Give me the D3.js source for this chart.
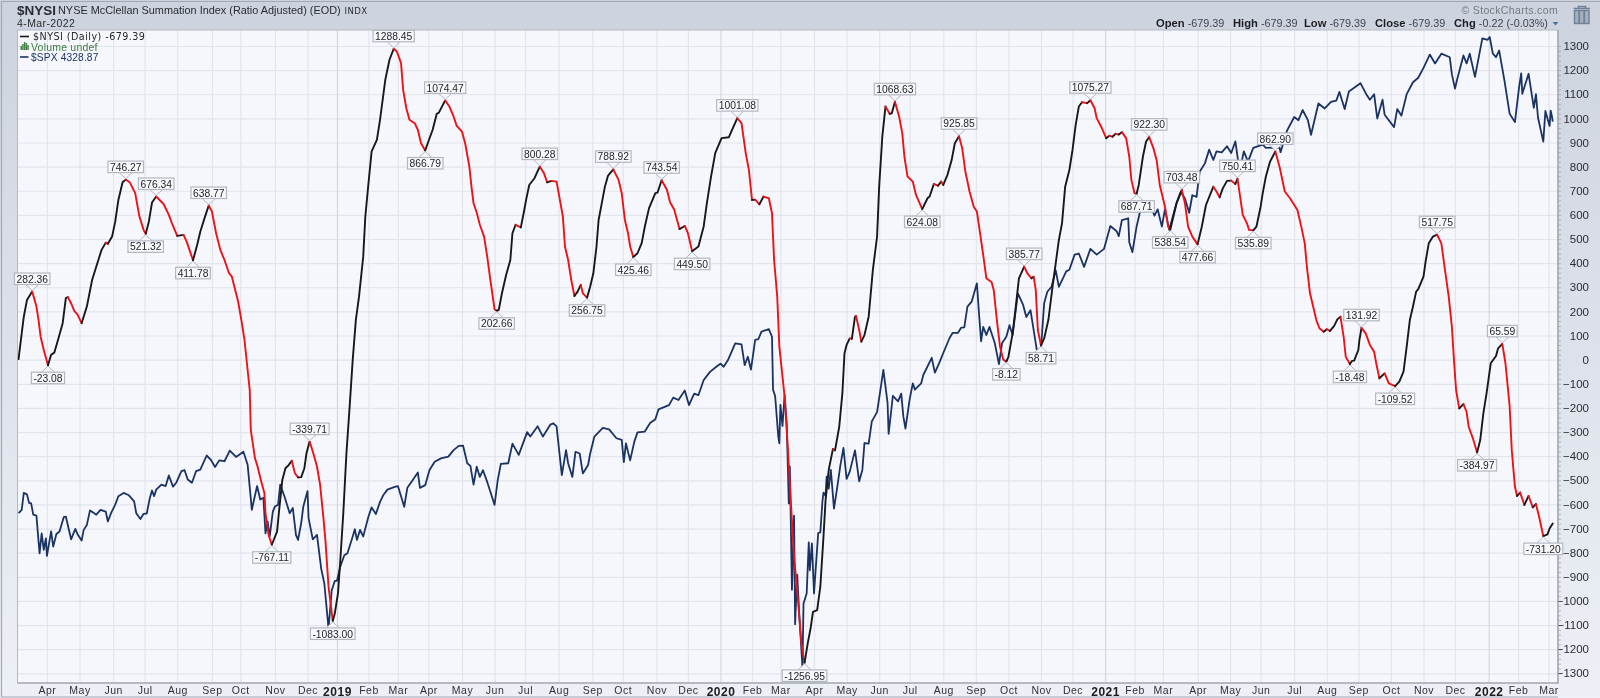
<!DOCTYPE html>
<html>
<head>
<meta charset="utf-8">
<title>$NYSI</title>
<script src="https://cdn.jsdelivr.net/npm/d3@7"></script>
<style>
  html, body { margin: 0; padding: 0; background: #fff; }
  svg { display: block; }
</style>
</head>
<body>
<div id="chart"></div>
<script>
// $NYSI closes, [month-day, value]
const nysi2018 = [["03-05",2],["03-08",109],["03-10",178],["03-13",247],["03-18",282.36],["03-22",220],["03-24",165],["03-26",95],["03-29",40],
  ["04-02",-23.08],["04-05",20],["04-08",29],["04-12",89],["04-16",151],["04-19",255],["04-21",259],["04-24",234],["04-27",202],["04-30",188],
  ["05-04",151],["05-09",220],["05-14",330],["05-18",386],["05-23",455],["05-27",485],["05-29",480],
  ["06-02",510],["06-05",572],["06-08",662],["06-12",735],["06-15",746.27],["06-19",734],["06-24",690],["06-28",593],
  ["07-02",538],["07-04",521.32],["07-07",572],["07-10",651],["07-14",676.34],["07-21",645],["07-26",600],["07-29",565],
  ["08-03",513],["08-09",517],["08-12",489],["08-18",411.78],["08-22",476],["08-25",531],["08-30",600],
  ["09-02",638.77],["09-05",614],["09-09",524],["09-13",455],["09-17",413],["09-21",361],["09-24",344],["09-30",240],
  ["10-03",165],["10-06",82],["10-09",-43],["10-11",-126],["10-12",-291],["10-16",-409],["10-18",-436],["10-22",-506],["10-25",-554],["10-26",-637],["10-29",-727],
  ["11-01",-767.11],["11-06",-713],["11-08",-623],["11-11",-499],["11-14",-450],["11-17",-437],["11-20",-419],["11-23",-471],["11-26",-488],["11-29",-487],
  ["12-02",-450],["12-04",-388],["12-07",-339.71],["12-10",-381],["12-14",-443],["12-17",-519],["12-20",-651],["12-22",-747],["12-25",-941],["12-29",-1083],["12-31",-1051]];
const nysi2019 = [["01-03",-968],["01-05",-844],["01-08",-640],["01-11",-390],["01-14",-200],["01-17",-1],["01-20",165],["01-23",261],["01-27",427],["01-29",593],
  ["02-01",731],["02-04",863],["02-09",911],["02-12",994],["02-17",1160],["02-21",1243],["02-25",1288.45],["02-28",1277],
  ["03-04",1229],["03-06",1118],["03-09",1042],["03-12",994],["03-17",980],["03-20",952],["03-23",897],["03-27",866.79],["03-30",904],
  ["04-03",952],["04-07",1019],["04-09",1024],["04-15",1074.47],["04-19",1049],["04-23",1008],["04-26",969],
  ["05-01",945],["05-04",897],["05-08",800],["05-10",717],["05-12",648],["05-15",610],["05-18",559],["05-22",510],["05-25",427],["05-28",330],
  ["06-01",208],["06-03",202.66],["06-05",206],["06-08",275],["06-12",351],["06-16",413],["06-18",524],["06-21",559],["06-26",548],["06-29",614],
  ["07-01",662],["07-04",724],["07-09",752],["07-14",800.28],["07-18",773],["07-21",735],["07-25",741],["07-30",738],
  ["08-01",690],["08-05",593],["08-07",469],["08-10",413],["08-13",330],["08-16",264],["08-19",282],["08-22",310],["08-24",275],["08-28",256.75],["08-31",303],
  ["09-03",358],["09-06",469],["09-08",579],["09-11",648],["09-14",717],["09-17",763],["09-22",788.92],["09-27",745],["09-30",690],
  ["10-03",579],["10-06",524],["10-08",469],["10-11",425.46],["10-15",441],["10-19",483],["10-22",552],["10-26",628],["10-30",669],
  ["11-01",690],["11-03",692],["11-07",743.54],["11-12",704],["11-15",652],["11-19",621],["11-24",541],["11-29",554],
  ["12-02",524],["12-06",449.5],["12-12",469],["12-17",552],["12-20",648],["12-24",759],["12-28",856]];
const nysi2020 = [["01-03",918],["01-10",922],["01-13",952],["01-18",1001.08],["01-22",980],["01-26",856],["01-29",787],
  ["02-01",662],["02-04",663],["02-08",644],["02-12",676],["02-17",669],["02-20",607],["02-22",413],["02-25",261],["02-27",54],
  ["03-01",-70],["03-03",-153],["03-06",-360],["03-09",-595],["03-12",-817],["03-16",-1010],["03-19",-1176],["03-22",-1256.95],["03-25",-1176],["03-28",-1107],["03-30",-1045],
  ["04-03",-1038],["04-06",-941],["04-09",-734],["04-11",-582],["04-14",-457],["04-18",-370],["04-20",-376],["04-24",-278],["04-27",-139],["04-29",26],
  ["05-01",61],["05-04",88],["05-06",86],["05-09",178],["05-10",181],["05-13",123],["05-15",75],["05-18",102],["05-22",178],["05-26",372],["05-30",510],
  ["06-01",717],["06-04",925],["06-07",1049],["06-11",1019],["06-13",1021],["06-16",1068.63],["06-20",1007],["06-23",938],["06-25",842],["06-28",759],
  ["07-03",738],["07-06",683],["07-12",624.08],["07-17",669],["07-19",676],["07-23",728],["07-27",721],["07-30",738],
  ["08-01",724],["08-05",766],["08-09",828],["08-12",897],["08-16",925.85],["08-19",876],["08-22",780],["08-26",697],["08-30",634],
  ["09-02",614],["09-05",524],["09-08",434],["09-11",337],["09-16",321],["09-18",289],["09-21",164],["09-24",54],["09-27",1],["09-30",-8.12],
  ["10-02",12],["10-06",109],["10-09",220],["10-12",337],["10-17",385.77],["10-20",358],["10-24",337],["10-26",344],["10-28",289],["10-30",123],
  ["11-02",58.71],["11-05",88],["11-09",164],["11-13",303],["11-16",399],["11-19",496],["11-22",565],["11-25",717],["11-29",786],
  ["12-02",869],["12-05",973],["12-08",1049],["12-11",1067],["12-16",1063],["12-19",1075.27],["12-23",1042],["12-25",1001],["12-30",959]];
const nysi2021 = [["01-03",918],["01-06",928],["01-09",924],["01-12",936],["01-15",933],["01-18",943],["01-22",918],["01-25",842],["01-27",745],["01-30",690],
  ["02-01",687.71],["02-03",724],["02-07",842],["02-10",904],["02-13",922.3],["02-17",876],["02-20",828],["02-23",724],["02-28",634],
  ["03-03",551],["03-05",538.54],["03-11",648],["03-16",703.48],["03-19",648],["03-22",551],["03-26",510],["03-31",477.66],
  ["04-04",551],["04-08",641],["04-15",717],["04-18",697],["04-21",673],["04-24",710],["04-28",741],
  ["05-02",742],["05-06",728],["05-08",750.41],["05-10",690],["05-13",600],["05-17",565],["05-19",538],["05-23",535.89],["05-26",551],["05-30",634],
  ["06-01",690],["06-04",759],["06-08",821],["06-13",862.9],["06-17",800],["06-19",759],["06-22",697],["06-27",669],["06-30",648],
  ["07-04",620],["07-08",545],["07-11",482],["07-13",386],["07-16",275],["07-19",220],["07-22",164],["07-25",130],["07-29",116],
  ["08-01",126],["08-04",119],["08-08",140],["08-11",167],["08-14",178],["08-17",95],["08-19",12],["08-23",-18.48],["08-25",-5],["08-27",-4],["08-31",40],
  ["09-01",81],["09-03",131.92],["09-07",109],["09-11",61],["09-15",33],["09-17",-15],["09-20",-77],["09-25",-57],["09-29",-98],
  ["10-05",-109.52],["10-09",-91],["10-13",-50],["10-16",54],["10-19",164],["10-22",220],["10-25",282],["10-27",292],
  ["11-01",344],["11-03",406],["11-06",482],["11-10",510],["11-14",517.75],["11-18",482],["11-21",386],["11-25",261],["11-28",137],["11-30",-1],
  ["12-02",-126],["12-05",-202],["12-09",-184],["12-12",-216],["12-14",-278],["12-18",-326],["12-22",-384.97],["12-25",-333],["12-28",-222],["12-31",-140]];
const nysi2022 = [["01-04",-15],["01-09",15],["01-11",47],["01-15",65.59],["01-18",-15],["01-22",-195],["01-24",-375],["01-27",-526],["01-29",-565],
  ["02-01",-551],["02-05",-602],["02-09",-565],["02-13",-612],["02-16",-598],["02-19",-651],["02-23",-731.2],["02-27",-724],["03-01",-700],["03-04",-679.39]];

// $SPX closes, [month-day, value]
const spx2018 = [["03-05",2693],["03-08",2704],["03-10",2760],["03-13",2755],["03-15",2727],["03-17",2725],["03-19",2688],["03-22",2685],["03-25",2565],["03-27",2628],["03-29",2576],["03-31",2612],
  ["04-01",2557],["04-05",2634],["04-07",2586],["04-10",2626],["04-13",2634],["04-17",2680],["04-19",2682],["04-24",2609],["04-28",2642],["04-30",2626],
  ["05-04",2605],["05-06",2639],["05-09",2655],["05-12",2702],["05-15",2695],["05-18",2688],["05-22",2704],["05-27",2698],["05-29",2666],
  ["06-01",2693],["06-05",2721],["06-08",2749],["06-13",2760],["06-18",2752],["06-23",2732],["06-25",2693],["06-29",2674],
  ["07-02",2691],["07-05",2692],["07-08",2744],["07-10",2768],["07-12",2749],["07-14",2771],["07-19",2788],["07-23",2783],["07-26",2819],["07-30",2781],
  ["08-02",2794],["08-07",2834],["08-10",2837],["08-13",2805],["08-17",2794],["08-21",2834],["08-25",2839],["08-31",2888],
  ["09-04",2873],["09-08",2848],["09-12",2871],["09-17",2868],["09-22",2905],["09-28",2883],
  ["10-05",2901],["10-09",2856],["10-13",2704],["10-18",2783],["10-21",2738],["10-24",2744],["10-26",2628],["10-28",2666],["10-30",2618],
  ["11-02",2698],["11-04",2715],["11-07",2721],["11-09",2788],["11-13",2749],["11-18",2693],["11-21",2710],["11-24",2623],["11-26",2607],["11-29",2661],
  ["12-01",2715],["12-05",2766],["12-06",2677],["12-10",2609],["12-14",2623],["12-18",2518],["12-21",2473],["12-25",2341],["12-28",2452],["12-31",2481]];
const spx2019 = [["01-02",2481],["01-05",2522],["01-09",2559],["01-12",2565],["01-17",2618],["01-19",2641],["01-21",2607],["01-24",2639],["01-27",2618],
  ["02-01",2682],["02-04",2712],["02-08",2690],["02-12",2730],["02-15",2752],["02-19",2771],["02-26",2780],
  ["03-01",2783],["03-04",2749],["03-07",2714],["03-10",2777],["03-15",2803],["03-20",2829],["03-22",2777],["03-27",2786],["03-31",2837],
  ["04-05",2866],["04-11",2878],["04-18",2884],["04-23",2907],["04-28",2922],
  ["05-02",2923],["05-06",2861],["05-09",2852],["05-12",2788],["05-15",2849],["05-18",2814],["05-21",2837],["05-25",2797],["05-28",2764],
  ["06-01",2720],["06-04",2803],["06-07",2859],["06-14",2861],["06-18",2930],["06-24",2890],
  ["07-02",2971],["07-05",2955],["07-12",2992],["07-17",2955],["07-24",2998],["07-27",3003],["07-30",2992],
  ["08-04",2820],["08-08",2907],["08-10",2861],["08-14",2814],["08-17",2901],["08-21",2895],["08-24",2826],["08-29",2855],["08-31",2895],
  ["09-04",2955],["09-12",2986],["09-18",2981],["09-25",2949],["09-30",2943],
  ["10-02",2865],["10-04",2931],["10-08",2871],["10-12",2937],["10-15",2970],["10-22",2973],["10-27",3004],
  ["11-01",3018],["11-04",3054],["11-14",3070],["11-18",3098],["11-23",3089],["11-29",3125],
  ["12-03",3070],["12-08",3113],["12-12",3107],["12-17",3165],["12-23",3196],["12-29",3216]];
const spx2020 = [["01-02",3228],["01-05",3216],["01-09",3241],["01-16",3308],["01-22",3304],["01-25",3222],["01-28",3255],["01-31",3205],
  ["02-04",3322],["02-07",3325],["02-10",3356],["02-17",3366],["02-20",3335],["02-21",3128],["02-23",3104],["02-26",2955],["02-27",2931],["02-28",3071],
  ["03-01",2993],["03-03",3108],["03-05",3004],["03-07",2725],["03-08",2850],["03-10",2454],["03-12",2685],["03-13",2354],["03-15",2500],["03-17",2379],["03-20",2234],["03-21",2414],["03-24",2443],["03-26",2599],["03-27",2513],["03-29",2596],["03-31",2443],
  ["04-01",2490],["04-04",2629],["04-06",2631],["04-08",2732],["04-09",2761],["04-11",2750],["04-12",2815],["04-14",2774],["04-16",2838],["04-19",2708],["04-22",2777],["04-25",2852],["04-28",2915],
  ["05-01",2807],["05-04",2832],["05-09",2906],["05-13",2799],["05-16",2838],["05-18",2932],["05-22",2930],["05-25",3010],["05-30",3044],
  ["06-01",3096],["06-05",3204],["06-09",3077],["06-10",2965],["06-14",3104],["06-19",3084],["06-22",3113],["06-24",3028],["06-26",2984],["06-30",3091],
  ["07-03",3152],["07-05",3128],["07-08",3140],["07-11",3152],["07-13",3184],["07-21",3251],["07-24",3193],["07-28",3229],
  ["08-01",3270],["08-07",3330],["08-10",3351],["08-15",3351],["08-18",3372],["08-21",3373],["08-24",3459],["08-28",3480],
  ["09-02",3558],["09-04",3431],["09-06",3317],["09-08",3375],["09-11",3342],["09-14",3375],["09-19",3310],["09-23",3226],["09-26",3310],["09-30",3335],
  ["10-03",3382],["10-06",3342],["10-11",3515],["10-16",3466],["10-19",3416],["10-23",3444],["10-29",3282],
  ["11-02",3288],["11-05",3473],["11-08",3522],["11-12",3543],["11-16",3615],["11-19",3543],["11-26",3610],["11-29",3617],
  ["12-04",3684],["12-08",3689],["12-13",3630],["12-19",3710],["12-25",3684]];
const spx2021 = [["01-01",3710],["01-07",3814],["01-13",3790],["01-15",3768],["01-18",3842],["01-24",3850],["01-25",3740],["01-28",3695],
  ["02-01",3812],["02-04",3876],["02-07",3900],["02-13",3923],["02-18",3862],["02-21",3892],["02-25",3812],["02-28",3892],
  ["03-04",3796],["03-11",3923],["03-15",3975],["03-19",3943],["03-23",3876],["03-26",3959],["03-30",3951],
  ["04-02",4073],["04-07",4115],["04-11",4184],["04-15",4132],["04-18",4175],["04-23",4170],["04-28",4201],
  ["05-02",4167],["05-06",4226],["05-10",4073],["05-14",4175],["05-18",4124],["05-23",4193],
  ["06-01",4210],["06-04",4193],["06-17",4195],["06-18",4171],["06-24",4280],
  ["07-01",4353],["07-05",4336],["07-09",4390],["07-14",4336],["07-17",4260],["07-24",4425],["07-30",4398],
  ["08-05",4433],["08-10",4440],["08-13",4487],["08-18",4395],["08-22",4490],["08-27",4510],
  ["09-02",4535],["09-08",4470],["09-11",4445],["09-15",4475],["09-18",4345],["09-23",4445],["09-25",4365],
  ["10-04",4300],["10-07",4395],["10-11",4360],["10-16",4475],["10-22",4540],["10-27",4565],
  ["11-01",4620],["11-07",4695],["11-12",4645],["11-18",4700],["11-26",4680],["11-28",4585],
  ["12-01",4505],["12-03",4555],["12-09",4690],["12-12",4645],["12-15",4700],["12-20",4570],["12-27",4788]];
const spx2022 = [["01-01",4780],["01-03",4796],["01-06",4700],["01-09",4680],["01-12",4718],["01-17",4550],["01-22",4370],["01-27",4326],["01-31",4515],
  ["02-02",4589],["02-03",4477],["02-09",4587],["02-14",4401],["02-16",4475],["02-18",4349],["02-23",4225],["02-25",4385],
  ["03-01",4306],["03-02",4387],["03-03",4363],["03-04",4328.87]];

// labelled swing highs and lows of $NYSI
const swingDates = ["2018-03-18","2018-04-02","2018-06-15","2018-07-04","2018-07-14","2018-08-18","2018-09-02","2018-11-01","2018-12-07","2018-12-29",
  "2019-02-25","2019-03-27","2019-04-15","2019-06-03","2019-07-14","2019-08-28","2019-09-22","2019-10-11","2019-11-07","2019-12-06",
  "2020-01-18","2020-03-22","2020-06-16","2020-07-12","2020-08-16","2020-09-30","2020-10-17","2020-11-02","2020-12-19",
  "2021-02-01","2021-02-13","2021-03-05","2021-03-16","2021-03-31","2021-05-08","2021-05-23","2021-06-13","2021-08-23","2021-09-03","2021-10-05","2021-11-14","2021-12-22",
  "2022-01-15","2022-02-23"];
const swingValues = [282.36,-23.08,746.27,521.32,676.34,411.78,638.77,-767.11,-339.71,-1083,
  1288.45,866.79,1074.47,202.66,800.28,256.75,788.92,425.46,743.54,449.5,
  1001.08,-1256.95,1068.63,624.08,925.85,-8.12,385.77,58.71,1075.27,
  687.71,922.3,538.54,703.48,477.66,750.41,535.89,862.9,-18.48,131.92,-109.52,517.75,-384.97,
  65.59,-731.2];
const swingSides = ["high","low","high","low","high","low","high","low","high","low",
  "high","low","high","low","high","low","high","low","high","low",
  "high","low","high","low","high","low","high","low","high",
  "low","high","low","high","low","high","low","high","low","high","low","high","low",
  "high","low"];

// month ticks
const tickDates = ["2018-04-01","2018-05-02","2018-06-03","2018-07-03","2018-08-03","2018-09-05","2018-10-02","2018-11-04","2018-12-05",
  "2019-01-02","2019-02-01","2019-03-01","2019-03-30","2019-05-01","2019-06-01","2019-06-30","2019-08-01","2019-09-02","2019-10-01","2019-11-02","2019-12-02",
  "2020-01-02","2020-02-01","2020-02-28","2020-03-31","2020-05-01","2020-06-01","2020-06-30","2020-08-01","2020-09-01","2020-10-02","2020-11-02","2020-12-02",
  "2021-01-02","2021-01-30","2021-02-26","2021-03-31","2021-05-01","2021-05-30","2021-07-01","2021-08-01","2021-08-31","2021-10-01","2021-11-01","2021-12-01",
  "2022-01-02","2022-01-30","2022-02-28"];
const tickLabels = ["Apr","May","Jun","Jul","Aug","Sep","Oct","Nov","Dec",
  "2019","Feb","Mar","Apr","May","Jun","Jul","Aug","Sep","Oct","Nov","Dec",
  "2020","Feb","Mar","Apr","May","Jun","Jul","Aug","Sep","Oct","Nov","Dec",
  "2021","Feb","Mar","Apr","May","Jun","Jul","Aug","Sep","Oct","Nov","Dec",
  "2022","Feb","Mar"];

const quoteLabels = ["Open","High","Low","Close","Chg"];
const quoteValues = ["-679.39","-679.39","-679.39","-679.39","-0.22 (-0.03%)"];

const width = 1600;
const height = 698;
const margin = {top: 30, right: 42, bottom: 15, left: 17.5};
const plotRight = width - margin.right;
const plotBottom = height - margin.bottom;
const sansFont = "'Liberation Sans', Arial, sans-serif";

const parseDate = d3.utcParse("%Y-%m-%d");
const withYear = (year, rows) => rows.map(d => ({date: parseDate(`${year}-${d[0]}`), value: d[1]}));

const nysi = d3.merge([[2018, nysi2018], [2019, nysi2019], [2020, nysi2020], [2021, nysi2021], [2022, nysi2022]].map(d => withYear(d[0], d[1])));
const spx = d3.merge([[2018, spx2018], [2019, spx2019], [2020, spx2020], [2021, spx2021], [2022, spx2022]].map(d => withYear(d[0], d[1])));

const x = d3.scaleUtc()
  .domain([parseDate("2018-03-04"), parseDate("2022-03-09")])
  .range([margin.left, plotRight]);
const y = d3.scaleLinear()
  .domain([-1340.2, 1366.3])
  .range([plotBottom, margin.top]);
// $SPX runs on its own hidden log scale
const ySpx = d3.scaleLog()
  .domain([2192, 4837])
  .range([plotBottom, margin.top]);

const svg = d3.select("#chart").append("svg")
  .attr("width", width)
  .attr("height", height)
  .attr("viewBox", [0, 0, width, height])
  .style("filter", "blur(0.35px)");

const defs = svg.append("defs");
defs.append("linearGradient")
  .attr("id", "page-gradient")
  .attr("x1", 0).attr("y1", 0).attr("x2", 0).attr("y2", 1)
  .selectAll("stop")
  .data([
    {offset: "0%", color: "#cdd3de"},
    {offset: "100%", color: "#edf0f6"}
  ])
  .join("stop")
  .attr("offset", d => d.offset)
  .attr("stop-color", d => d.color);
defs.append("clipPath")
  .attr("id", "plot-clip")
  .append("rect")
  .attr("x", margin.left)
  .attr("y", margin.top)
  .attr("width", plotRight - margin.left)
  .attr("height", plotBottom - margin.top);

// page and plot backgrounds
svg.append("rect")
  .attr("width", width)
  .attr("height", height)
  .attr("fill", "url(#page-gradient)");
svg.append("path")
  .attr("d", `M1.5,697V1.5H${width} M1.5,697H${plotRight}`)
  .attr("fill", "none")
  .attr("stroke", "#a3a8b2")
  .attr("stroke-width", 1.2);
svg.append("rect")
  .attr("x", margin.left)
  .attr("y", margin.top)
  .attr("width", plotRight - margin.left)
  .attr("height", plotBottom - margin.top)
  .attr("fill", "#f5f7fc");

// y gridlines, minor ticks and labels
const yGrid = svg.append("g")
  .attr("transform", `translate(${plotRight},0)`)
  .call(d3.axisRight(y).tickValues(d3.range(-1300, 1301, 20)).tickSize(3).tickFormat(""))
  .call(g => g.select(".domain").remove())
  .call(g => g.selectAll(".tick line").attr("stroke", "#8d929c").attr("stroke-width", 0.6));

const yAxis = svg.append("g")
  .attr("transform", `translate(${plotRight},0)`)
  .call(d3.axisRight(y).tickValues(d3.range(-1300, 1301, 100)).tickSize(-(plotRight - margin.left)).tickFormat(d3.format("d")))
  .call(g => g.select(".domain").remove())
  .call(g => g.selectAll(".tick line").attr("stroke", "#e2e5ec").attr("stroke-width", 1.2))
  .call(g => g.selectAll(".tick text")
    .attr("x", 31)
    .attr("text-anchor", "end")
    .attr("fill", "#2b2d33")
    .attr("font-family", sansFont)
    .attr("font-size", "11.5px"));

// x gridlines and month labels
const xAxis = svg.append("g")
  .attr("transform", `translate(0,${plotBottom})`)
  .call(d3.axisBottom(x)
    .tickValues(tickDates.map(parseDate))
    .tickSize(-(plotBottom - margin.top))
    .tickPadding(4)
    .tickFormat((d, i) => tickLabels[i]))
  .call(g => g.select(".domain").remove())
  .call(g => g.selectAll(".tick line")
    .attr("stroke", (d, i) => tickLabels[i].length === 4 ? "#d4d7df" : "#e2e5ec")
    .attr("stroke-width", 1.2))
  .call(g => g.selectAll(".tick text")
    .attr("fill", (d, i) => tickLabels[i].length === 4 ? "#1c1c20" : "#2f3138")
    .attr("font-family", sansFont)
    .attr("font-weight", (d, i) => tickLabels[i].length === 4 ? "bold" : "normal")
    .attr("font-size", (d, i) => tickLabels[i].length === 4 ? "12px" : "10.5px")
    .attr("letter-spacing", "0.5px"));

// plot frame
svg.append("path")
  .attr("d", `M${margin.left},${plotBottom}V${margin.top}H${plotRight}`)
  .attr("fill", "none")
  .attr("stroke", "#b4b8c2")
  .attr("stroke-width", 1);
svg.append("path")
  .attr("d", `M${margin.left},${plotBottom}H${plotRight}V${margin.top}`)
  .attr("fill", "none")
  .attr("stroke", "#a2a6b0")
  .attr("stroke-width", 1.6);

const plot = svg.append("g").attr("clip-path", "url(#plot-clip)");

// $SPX goes under $NYSI
const spxLine = d3.line()
  .x(d => x(d.date))
  .y(d => ySpx(d.value));
plot.append("path")
  .datum(spx)
  .attr("fill", "none")
  .attr("stroke", "#1b3363")
  .attr("stroke-width", 1.8)
  .attr("stroke-linejoin", "round")
  .attr("d", spxLine);

// $NYSI is black while rising and red while falling
let runs = [];
d3.pairs(nysi).forEach(([a, b]) => {
  const falling = b.value < a.value;
  const last = runs[runs.length - 1];
  if (last && last.falling === falling) {
    last.points.push(b);
  } else {
    runs.push({falling, points: [a, b]});
  }
});
const nysiLine = d3.line()
  .x(d => x(d.date))
  .y(d => y(d.value));
plot.selectAll(".nysi")
  .data(runs)
  .join("path")
  .attr("class", "nysi")
  .attr("fill", "none")
  .attr("stroke", d => d.falling ? "#ea1318" : "#17181a")
  .attr("stroke-width", 1.9)
  .attr("stroke-linejoin", "round")
  .attr("stroke-linecap", "round")
  .attr("d", d => nysiLine(d.points));

// swing labels: a small box and a chevron pointing at the line
const swings = swingDates.map((d, i) => ({date: parseDate(d), value: swingValues[i], side: swingSides[i]}));
const swing = svg.append("g").selectAll("g")
  .data(swings)
  .join("g")
  .attr("transform", d => `translate(${x(d.date)},${y(d.value)})`);
swing.append("path")
  .attr("d", d => {
    const s = d.side === "high" ? -1 : 1;
    return `M-6.5,${s * 7}L0,${s}L6.5,${s * 7}`;
  })
  .attr("fill", "#f5f7fc")
  .attr("stroke", "#b3b7c1")
  .attr("stroke-width", 1);
const swingBox = swing.append("rect")
  .attr("y", d => d.side === "high" ? -18.5 : 7)
  .attr("height", 11.5)
  .attr("fill", "#f7f8fb")
  .attr("stroke", "#b3b7c1")
  .attr("stroke-width", 1.2);
const swingText = swing.append("text")
  .attr("y", d => d.side === "high" ? -8.9 : 16.6)
  .attr("text-anchor", "middle")
  .attr("fill", "#23252a")
  .attr("font-family", sansFont)
  .attr("font-size", "10.3px")
  .text(d => d.value.toFixed(2));
swingText.each(function(d) {
  d.textWidth = this.getComputedTextLength();
});
swingBox
  .attr("x", d => -d.textWidth / 2 - 2)
  .attr("width", d => d.textWidth + 4);

// legend in the plot
const legend = svg.append("g").attr("font-family", "'DejaVu Sans', sans-serif");
legend.append("line")
  .attr("x1", 20).attr("x2", 29).attr("y1", 36.5).attr("y2", 36.5)
  .attr("stroke", "#17181a").attr("stroke-width", 1.6);
legend.append("text")
  .attr("x", 33).attr("y", 40)
  .attr("font-size", "9.6px")
  .attr("letter-spacing", "0.45px")
  .attr("fill", "#26272b")
  .text("$NYSI (Daily) -679.39");
legend.selectAll(".volume-bar")
  .data([4, 6, 8, 7, 5])
  .join("rect")
  .attr("class", "volume-bar")
  .attr("x", (d, i) => 20.5 + i * 1.7)
  .attr("y", d => 50 - d)
  .attr("width", 1.4)
  .attr("height", d => d)
  .attr("fill", "#3d7d3d");
legend.append("text")
  .attr("x", 31).attr("y", 50.5)
  .attr("font-family", sansFont)
  .attr("font-size", "10.5px")
  .attr("letter-spacing", "0.2px")
  .attr("fill", "#3d7d3d")
  .text("Volume undef");
legend.append("line")
  .attr("x1", 20).attr("x2", 28.5).attr("y1", 57).attr("y2", 57)
  .attr("stroke", "#1b3363").attr("stroke-width", 1.6);
legend.append("text")
  .attr("x", 31).attr("y", 61)
  .attr("font-family", sansFont)
  .attr("font-size", "10.2px")
  .attr("letter-spacing", "0.15px")
  .attr("fill", "#1b3363")
  .text("$SPX 4328.87");

// header
const header = svg.append("g").attr("font-family", sansFont).attr("fill", "#2a2c31");
header.append("text")
  .attr("x", 17).attr("y", 14.5)
  .attr("font-weight", "bold")
  .attr("font-size", "13.5px")
  .text("$NYSI");
header.append("text")
  .attr("x", 58).attr("y", 14.3)
  .attr("font-size", "10.9px")
  .text("NYSE McClellan Summation Index (Ratio Adjusted) (EOD)");
header.append("text")
  .attr("x", 344.5).attr("y", 14.3)
  .attr("font-family", "'DejaVu Sans', sans-serif")
  .attr("font-size", "8.6px")
  .attr("letter-spacing", "0.4px")
  .text("INDX");
header.append("text")
  .attr("x", 17).attr("y", 27)
  .attr("font-size", "10.5px")
  .attr("letter-spacing", "0.4px")
  .text("4-Mar-2022");
header.append("text")
  .attr("x", 1558).attr("y", 14)
  .attr("text-anchor", "end")
  .attr("font-size", "10.5px")
  .attr("letter-spacing", "0.35px")
  .attr("fill", "#75797f")
  .text("© StockCharts.com");

// quote line, each label followed by its value
const quoteX = [1156, 1233, 1304, 1375, 1454];
const quote = header.selectAll(".quote")
  .data(quoteLabels)
  .join("text")
  .attr("class", "quote")
  .attr("x", (d, i) => quoteX[i])
  .attr("y", 27)
  .attr("font-size", "10.8px");
quote.append("tspan")
  .attr("font-weight", "bold")
  .attr("fill", "#1d1e22")
  .attr("font-size", "11.2px")
  .text(d => d + " ");
quote.append("tspan")
  .attr("fill", "#42454c")
  .text((d, i) => quoteValues[i]);
header.append("path")
  .attr("d", "M1552.5,22H1558.5L1555.5,25.5Z")
  .attr("fill", "#4f7398");

// trash can
const trash = svg.append("g").attr("fill", "none").attr("stroke", "#6d8196");
trash.append("path")
  .attr("d", "M1578.5,8V6.5H1585.5V8M1573.5,8.5H1590")
  .attr("stroke-width", 1.6);
trash.append("rect")
  .attr("x", 1574.5).attr("y", 10.5)
  .attr("width", 14.5).attr("height", 13)
  .attr("stroke-width", 1.4)
  .attr("fill", "#a6b0bd");
trash.append("path")
  .attr("d", "M1579.2,11V23.5M1584.2,11V23.5")
  .attr("stroke-width", 1.8);
</script>
</body>
</html>
